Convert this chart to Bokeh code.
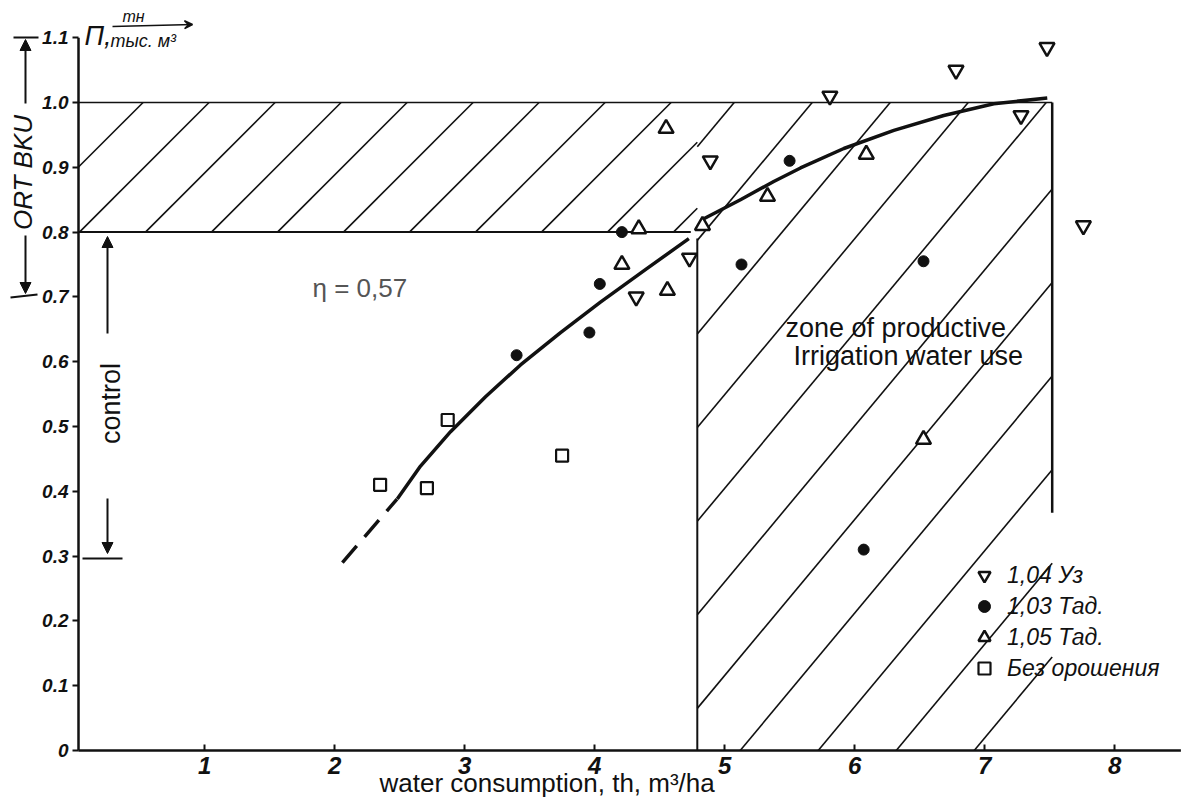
import numpy as np
from bokeh.plotting import figure
from bokeh.models import (Range1d, Label, Arrow, NormalHead, VeeHead, Legend,
                          LegendItem, FixedTicker, ColumnDataSource)
from bokeh.embed import file_html
from bokeh.resources import INLINE

# ---------------- data ----------------
x_ticks = [1, 2, 3, 4, 5, 6, 7, 8]
y_ticks = [0, 0.1, 0.2, 0.3, 0.4, 0.5, 0.6, 0.7, 0.8, 0.9, 1.0, 1.1]
y_tick_labels = ["0", "0.1", "0.2", "0.3", "0.4", "0.5", "0.6", "0.7", "0.8", "0.9", "1.0", "1.1"]

# 1,04 Уз  (open down-triangles)
uz104_x = [4.32, 4.73, 4.89, 5.81, 6.78, 7.48, 7.28, 7.76]
uz104_y = [0.70, 0.76, 0.91, 1.01, 1.05, 1.085, 0.98, 0.81]
# 1,03 Тад. (filled circles)
tad103_x = [3.40, 3.96, 4.04, 4.21, 5.13, 5.50, 6.07, 6.53]
tad103_y = [0.61, 0.645, 0.72, 0.80, 0.75, 0.91, 0.31, 0.755]
# 1,05 Тад. (open up-triangles)
tad105_x = [4.21, 4.34, 4.55, 4.56, 4.83, 5.33, 6.09, 6.53]
tad105_y = [0.75, 0.805, 0.96, 0.71, 0.81, 0.855, 0.92, 0.48]
# Без орошения (open squares)
noirr_x = [2.35, 2.71, 2.87, 3.75]
noirr_y = [0.41, 0.405, 0.51, 0.455]

# fitted curves (traced)
lower_dash_x = [2.06, 2.48]
lower_dash_y = [0.290, 0.388]
lower_x = [2.482, 2.661, 2.892, 3.161, 3.430, 3.738, 4.045, 4.391, 4.725]
lower_y = [0.388, 0.439, 0.492, 0.546, 0.595, 0.645, 0.692, 0.742, 0.790]
upper_x = [4.840, 5.122, 5.378, 5.584, 5.917, 6.302, 6.686, 7.071, 7.482]
upper_y = [0.8205, 0.850, 0.878, 0.899, 0.929, 0.957, 0.980, 0.998, 1.007]

# zones and axis extents
axis_x0, axis_x1 = 0.03, 8.51
axis_y1 = 1.10
opt_low, opt_high = 0.8, 1.0
zone_x0, zone_x1 = 4.79, 7.52
wall_bottom = 0.367

# ---------------- figure: the frame covers the whole page ----------------
W, H = 1201, 798
PX_X, PX_Y = 130.0, 648.0   # pixels per data unit


def X(px):
    return axis_x0 + (px - 78) / PX_X


def Y(py):
    return (750 - py) / PX_Y


p = figure(width=W, height=H, x_range=Range1d(X(0), X(W)), y_range=Range1d(Y(H), Y(0)),
           output_backend="svg", toolbar_location=None, title=None, min_border=0)
p.background_fill_color = "white"
p.border_fill_color = "white"
p.outline_line_color = None
p.xgrid.visible = False
p.ygrid.visible = False

FONT = "Liberation Sans"
INK = "#111111"
for ax in (p.xaxis, p.yaxis):
    ax.axis_line_color = None
    ax.major_tick_line_width = 2
    ax.major_tick_line_color = INK
    ax.minor_tick_line_color = None
    ax.major_label_text_font = FONT
    ax.major_label_text_font_style = "bold italic"
    ax.major_label_text_color = INK

p.xaxis.fixed_location = 0
p.xaxis.ticker = FixedTicker(ticks=x_ticks)
p.xaxis.major_tick_in = 6
p.xaxis.major_tick_out = 0
p.xaxis.major_label_standoff = 6
p.xaxis.major_label_text_font_size = "24px"

p.yaxis.fixed_location = axis_x0
p.yaxis.ticker = FixedTicker(ticks=y_ticks)
p.yaxis.major_label_overrides = {t: s for t, s in zip(y_ticks, y_tick_labels)}
p.yaxis.major_tick_in = 0
p.yaxis.major_tick_out = 6
p.yaxis.major_label_standoff = 4
p.yaxis.major_label_text_font_size = "19px"

# axis lines
p.line([axis_x0, axis_x1], [0, 0], line_color=INK, line_width=2.5)
p.line([axis_x0, axis_x0], [0, axis_y1], line_color=INK, line_width=2.5)


# ---------------- hatching ----------------
def hatch(x0, x1, y0, y1, slope_px, spacing_px, x_anchor, y_anchor):
    m = slope_px * PX_X / PX_Y
    dx = spacing_px / PX_X
    xs0, ys0, xs1, ys1 = [], [], [], []
    cmin = x0 - (y1 - y_anchor) / m
    cmax = x1 - (y0 - y_anchor) / m
    k0 = int(np.floor((cmin - x_anchor) / dx)) - 1
    k1 = int(np.ceil((cmax - x_anchor) / dx)) + 1
    for k in range(k0, k1 + 1):
        c = x_anchor + k * dx
        ya = max(y0, y_anchor + m * (x0 - c))
        yb = min(y1, y_anchor + m * (x1 - c))
        if yb - ya > 1e-4:
            xs0.append(c + (ya - y_anchor) / m); ys0.append(ya)
            xs1.append(c + (yb - y_anchor) / m); ys1.append(yb)
    return dict(x0=xs0, y0=ys0, x1=xs1, y1=ys1)


h1 = hatch(axis_x0, zone_x0, opt_low, opt_high, 1.0, 66, 0.545, opt_low)
h2 = hatch(zone_x0, zone_x1, 0.0, opt_high, 1.2, 78, 5.72, 0.0)
for h in (h1, h2):
    p.segment(x0="x0", y0="y0", x1="x1", y1="y1", source=ColumnDataSource(h),
              line_color=INK, line_width=1.6)

# ---------------- zone boundaries ----------------
p.line([axis_x0, zone_x1], [opt_high, opt_high], line_color=INK, line_width=1.6)
p.line([axis_x0, zone_x0 - 0.05], [opt_low, opt_low], line_color=INK, line_width=2)
p.line([zone_x0, zone_x0], [0, opt_low - 0.01], line_color=INK, line_width=2)
p.line([zone_x1, zone_x1], [wall_bottom, opt_high], line_color=INK, line_width=2.5)

# ---------------- curves ----------------
p.line(lower_dash_x, lower_dash_y, line_color=INK, line_width=3.5, line_dash="22 12")
p.line(lower_x, lower_y, line_color=INK, line_width=3.5, line_join="round")
p.line(upper_x, upper_y, line_color=INK, line_width=3.5, line_join="round")

# ---------------- points ----------------
r_uz = p.scatter(uz104_x, uz104_y, marker="inverted_triangle", size=15, fill_color="white",
                 line_color=INK, line_width=2.5)
r_t3 = p.scatter(tad103_x, tad103_y, marker="circle", size=11, fill_color=INK,
                 line_color=INK)
r_t5 = p.scatter(tad105_x, tad105_y, marker="triangle", size=15, fill_color="white",
                 line_color=INK, line_width=2.5)
r_no = p.scatter(noirr_x, noirr_y, marker="square", size=12, fill_color="white",
                 line_color=INK, line_width=2.2)

legend = Legend(items=[LegendItem(label="1,04 Уз", renderers=[r_uz]),
                       LegendItem(label="1,03 Тад.", renderers=[r_t3]),
                       LegendItem(label="1,05 Тад.", renderers=[r_t5]),
                       LegendItem(label="Без орошения", renderers=[r_no])],
                location=(969, H - 683), orientation="vertical", padding=0, margin=0,
                spacing=1, glyph_width=30, glyph_height=30, label_height=30,
                label_standoff=8, border_line_color=None, background_fill_alpha=0,
                label_text_font=FONT, label_text_font_size="23px",
                label_text_font_style="italic", label_text_color=INK)
p.add_layout(legend)


# ---------------- texts (positions given as visual centres) ----------------
def lab(x, y, text, size, style="normal", color=INK, angle=0, align="left"):
    p.add_layout(Label(x=x, y=y, text=text, text_font=FONT, text_font_size=size,
                       text_font_style=style, text_color=color, angle=angle,
                       text_align=align, text_baseline="middle"))


lab(X(379), Y(782), "water consumption, th, m³/ha", "26px")
lab(X(785), Y(327), "zone of productive", "27px")
lab(X(793), Y(355), "Irrigation  water use", "27px")
lab(X(110), Y(403), "control", "27px", angle=np.pi / 2, align="center")
lab(X(312), Y(287), "η = 0,57", "26px", color="#555555")
lab(X(22), Y(172), "ORT BKU", "26px", style="italic", angle=np.pi / 2, align="center")
lab(X(84), Y(35), "П,", "27px", style="italic")
lab(X(122), Y(16), "тн", "16px", style="italic")
lab(X(110), Y(40), "тыс. м³", "18px", style="italic")


# ---------------- arrows / dimension marks ----------------
def arrow(xs, ys, xe, ye, head=True, width=2):
    end = NormalHead(size=11, fill_color=INK, line_color=INK) if head else None
    p.add_layout(Arrow(end=end, x_start=xs, y_start=ys, x_end=xe, y_end=ye,
                       line_color=INK, line_width=width))


p.add_layout(Arrow(end=VeeHead(size=8, line_color=INK, line_width=1.5, fill_color=INK),
                   x_start=X(112), y_start=Y(26), x_end=X(192), y_end=Y(24),
                   line_color=INK, line_width=1.5))

# dimension at far left
arrow(X(25), Y(103), X(25), Y(39))
arrow(X(13), Y(37), X(38), Y(37), head=False)
arrow(X(25), Y(235), X(25), Y(293))
arrow(X(10), Y(297), X(37), Y(294), head=False)

# control dimension
arrow(X(107), Y(333), X(107), Y(236))
arrow(X(107), Y(498), X(107), Y(553))
arrow(X(82), Y(558), X(122), Y(558), head=False)

open("out.html", "w").write(file_html(p, INLINE))
